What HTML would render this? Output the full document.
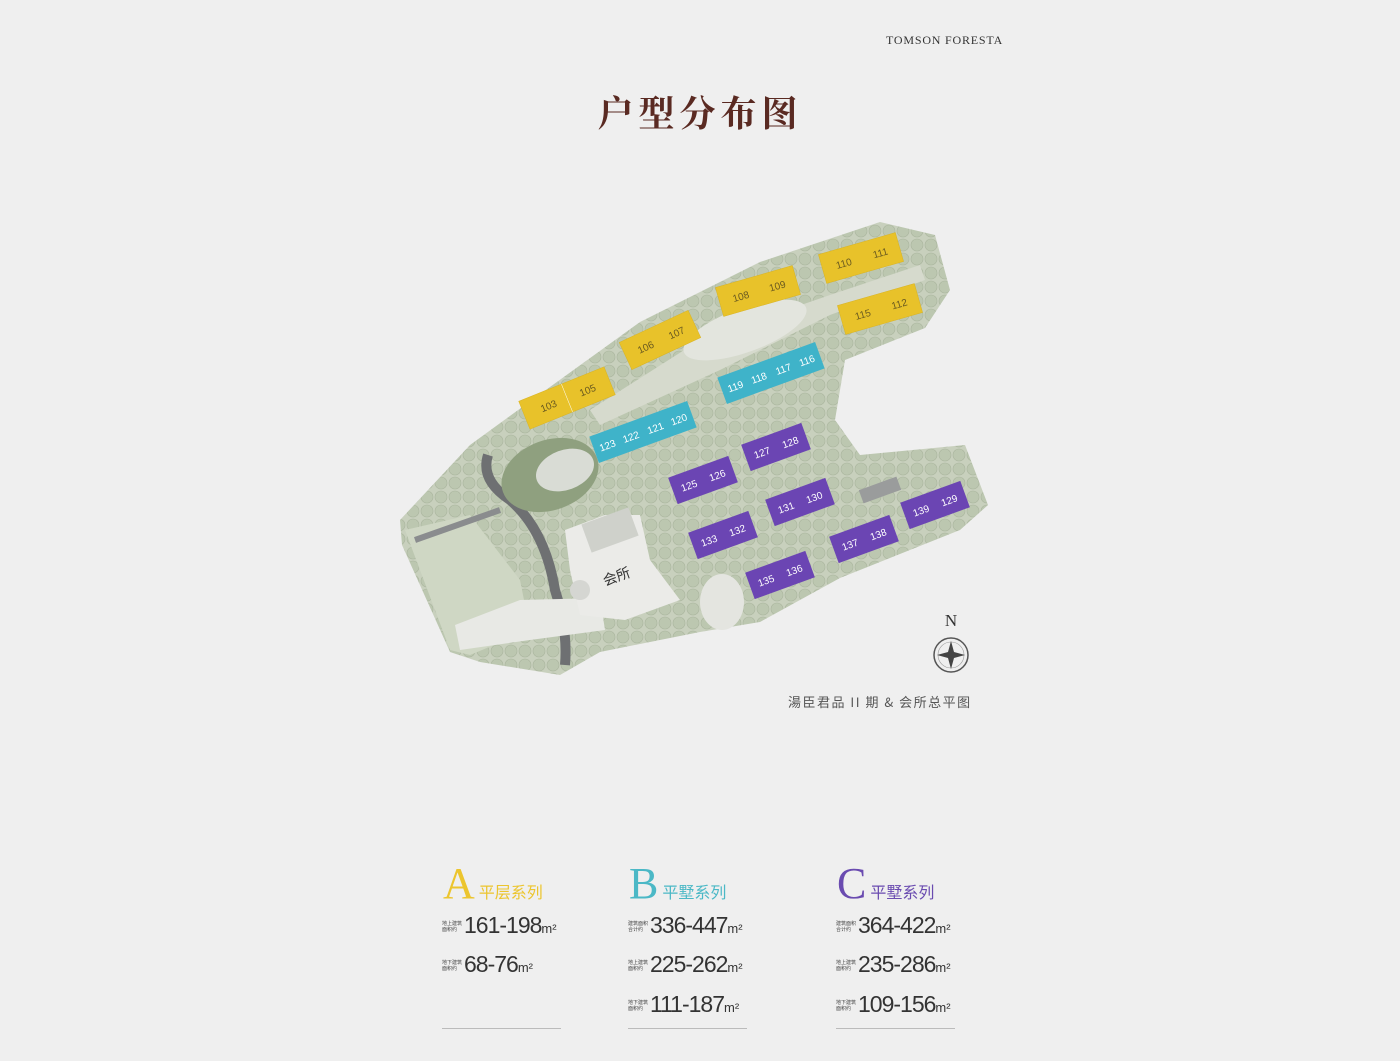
<!DOCTYPE html>
<html><head><meta charset="utf-8">
<style>
html,body{margin:0;padding:0;background:#efefef;}
body{width:1400px;height:1061px;position:relative;overflow:hidden;font-family:"Liberation Sans","Noto Sans CJK SC",sans-serif;}
.abs{position:absolute;}
.brand{left:886px;top:33px;font-family:"Liberation Serif",serif;font-size:12px;letter-spacing:0.8px;color:#333;}
.title{left:0;width:1400px;top:86px;text-align:center;font-family:"Noto Serif CJK SC",serif;font-size:36px;font-weight:bold;color:#5a2a22;letter-spacing:5px;}
.cap{left:788px;top:692px;font-size:13px;color:#555;letter-spacing:1.5px;font-family:"Noto Sans CJK SC",sans-serif;}
.big{font-family:"Liberation Serif",serif;font-size:44px;line-height:44px;}
.ser{font-size:16px;font-family:"Noto Sans CJK SC",sans-serif;margin-left:4px;}
.row{font-size:23px;color:#333;font-family:"Liberation Sans",sans-serif;letter-spacing:-1px;white-space:nowrap;}
.lab{display:inline-block;font-size:5px;line-height:6px;width:22px;color:#444;vertical-align:2px;letter-spacing:0;font-family:"Noto Sans CJK SC",sans-serif;}
.u{font-size:13px;letter-spacing:0;}
.line{height:1px;background:#bbb;width:119px;}
</style></head><body>
<div class="abs brand">TOMSON FORESTA</div>
<div class="abs title">户型分布图</div>

<svg class="abs" style="left:0;top:0" width="1400" height="1061">
<defs>
<pattern id="tr" width="14" height="14" patternUnits="userSpaceOnUse">
<rect width="14" height="14" fill="#c8d0bd"/>
<circle cx="7" cy="7" r="6" fill="#bcc7b0" stroke="#aab59e" stroke-width="0.6"/>
</pattern>
</defs>
<polygon points="400,520 470,445 525,405 640,322 760,262 880,222 935,235 950,290 925,328 845,360 835,420 860,455 965,445 988,505 960,530 840,578 760,622 700,632 600,652 560,675 480,662 450,652 402,545" fill="url(#tr)"/>
<polygon points="590,410 700,340 830,295 920,265 925,280 830,315 720,370 600,425" fill="#d6dacd"/>
<ellipse cx="745" cy="330" rx="65" ry="22" transform="rotate(-20 745 330)" fill="#e3e5de"/>
<polygon points="405,530 470,515 520,580 530,630 470,655 450,650" fill="#cfd7c4"/>
<path d="M488,455 Q480,480 510,500 Q545,530 555,590 Q568,630 565,665" stroke="#6e7072" stroke-width="10" fill="none"/>
<path d="M415,540 L500,510" stroke="#8a8c8e" stroke-width="6" fill="none"/>
<polygon points="455,625 520,600 600,598 605,630 530,640 460,650" fill="#e8e9e5"/>
<polygon points="565,530 605,515 640,515 650,560 665,580 680,600 625,620 580,615 570,570" fill="#ebebe8"/>
<rect x="585" y="515" width="50" height="30" fill="#cfd1cb" transform="rotate(-20 610 530)"/>
<circle cx="580" cy="590" r="10" fill="#d5d6d2"/>
<text x="603" y="582" font-family="Noto Sans CJK SC" font-size="14" fill="#333" transform="rotate(-20 615 578)">会所</text>
<ellipse cx="550" cy="475" rx="50" ry="35" transform="rotate(-20 550 475)" fill="#8fa07f"/>
<ellipse cx="565" cy="470" rx="30" ry="20" transform="rotate(-20 565 470)" fill="#d9dcd5"/>
<ellipse cx="722" cy="602" rx="22" ry="28" fill="#e4e5e0"/>
<rect x="860" y="483" width="40" height="14" fill="#9a9c9c" transform="rotate(-20 880 490)"/>

<g font-family="Liberation Sans" font-size="10" text-anchor="middle">
<g fill="#e8c22a" stroke="#d9b322" stroke-width="0.5">
<g transform="translate(567,398) rotate(-22)"><rect x="-46" y="-15" width="92" height="30"/><line x1="0" y1="-15" x2="0" y2="15" stroke="#fff" stroke-width=".5"/><text x="-20" y="4" fill="#6a5a20" stroke="none">103</text><text x="22" y="4" fill="#6a5a20" stroke="none">105</text></g>
<g transform="translate(660,340) rotate(-25)"><rect x="-38" y="-15" width="76" height="30"/><text x="-16" y="4" fill="#6a5a20" stroke="none">106</text><text x="18" y="4" fill="#6a5a20" stroke="none">107</text></g>
<g transform="translate(758,291) rotate(-16)"><rect x="-40" y="-15" width="80" height="30"/><text x="-18" y="4" fill="#6a5a20" stroke="none">108</text><text x="20" y="4" fill="#6a5a20" stroke="none">109</text></g>
<g transform="translate(861,258) rotate(-16)"><rect x="-40" y="-15" width="80" height="30"/><text x="-18" y="4" fill="#6a5a20" stroke="none">110</text><text x="20" y="4" fill="#6a5a20" stroke="none">111</text></g>
<g transform="translate(880,309) rotate(-16)"><rect x="-40" y="-15" width="80" height="30"/><text x="-18" y="4" fill="#6a5a20" stroke="none">115</text><text x="20" y="4" fill="#6a5a20" stroke="none">112</text></g>
</g>
<g fill="#3fb3c9">
<g transform="translate(643,432) rotate(-20)"><rect x="-52" y="-14" width="104" height="28"/><g fill="#fff"><text x="-38" y="4">123</text><text x="-13" y="4">122</text><text x="13" y="4">121</text><text x="38" y="4">120</text></g></g>
<g transform="translate(771,373) rotate(-20)"><rect x="-52" y="-14" width="104" height="28"/><g fill="#fff"><text x="-38" y="4">119</text><text x="-13" y="4">118</text><text x="13" y="4">117</text><text x="38" y="4">116</text></g></g>
</g>
<g fill="#6b45b3">
<g transform="translate(776,447) rotate(-20)"><rect x="-32" y="-14" width="64" height="28"/><g fill="#fff"><text x="-15" y="4">127</text><text x="15" y="4">128</text></g></g>
<g transform="translate(703,480) rotate(-20)"><rect x="-32" y="-14" width="64" height="28"/><g fill="#fff"><text x="-15" y="4">125</text><text x="15" y="4">126</text></g></g>
<g transform="translate(800,502) rotate(-20)"><rect x="-32" y="-14" width="64" height="28"/><g fill="#fff"><text x="-15" y="4">131</text><text x="15" y="4">130</text></g></g>
<g transform="translate(723,535) rotate(-20)"><rect x="-32" y="-14" width="64" height="28"/><g fill="#fff"><text x="-15" y="4">133</text><text x="15" y="4">132</text></g></g>
<g transform="translate(864,539) rotate(-20)"><rect x="-32" y="-14" width="64" height="28"/><g fill="#fff"><text x="-15" y="4">137</text><text x="15" y="4">138</text></g></g>
<g transform="translate(935,505) rotate(-20)"><rect x="-32" y="-14" width="64" height="28"/><g fill="#fff"><text x="-15" y="4">139</text><text x="15" y="4">129</text></g></g>
<g transform="translate(780,575) rotate(-20)"><rect x="-32" y="-14" width="64" height="28"/><g fill="#fff"><text x="-15" y="4">135</text><text x="15" y="4">136</text></g></g>
</g>
</g>
<text x="951" y="626" font-family="Liberation Serif" font-size="17" text-anchor="middle" fill="#333">N</text>
<circle cx="951" cy="655" r="17" fill="none" stroke="#555" stroke-width="1.5"/>
<circle cx="951" cy="655" r="13" fill="none" stroke="#999" stroke-width="0.6"/>
<polygon points="951,641 954,652 965,655 954,658 951,669 948,658 937,655 948,652" fill="#444"/>
</svg>

<div class="abs cap">湯臣君品 II 期 &amp; 会所总平图</div>

<div class="abs" style="left:443px;top:862px;"><span class="big" style="color:#ecc52e">A</span><span class="ser" style="color:#ecc52e">平层系列</span></div>
<div class="abs row" style="left:442px;top:912px;"><span class="lab">地上建筑<br>面积约</span>161-198<span class="u">m²</span></div>
<div class="abs row" style="left:442px;top:951px;"><span class="lab">地下建筑<br>面积约</span>68-76<span class="u">m²</span></div>
<div class="abs line" style="left:442px;top:1028px;"></div>
<div class="abs" style="left:629px;top:862px;"><span class="big" style="color:#4bb8c6">B</span><span class="ser" style="color:#4bb8c6">平墅系列</span></div>
<div class="abs row" style="left:628px;top:912px;"><span class="lab">建筑面积<br>合计约</span>336-447<span class="u">m²</span></div>
<div class="abs row" style="left:628px;top:951px;"><span class="lab">地上建筑<br>面积约</span>225-262<span class="u">m²</span></div>
<div class="abs row" style="left:628px;top:991px;"><span class="lab">地下建筑<br>面积约</span>111-187<span class="u">m²</span></div>
<div class="abs line" style="left:628px;top:1028px;"></div>
<div class="abs" style="left:837px;top:862px;"><span class="big" style="color:#6a4bb0">C</span><span class="ser" style="color:#6a4bb0">平墅系列</span></div>
<div class="abs row" style="left:836px;top:912px;"><span class="lab">建筑面积<br>合计约</span>364-422<span class="u">m²</span></div>
<div class="abs row" style="left:836px;top:951px;"><span class="lab">地上建筑<br>面积约</span>235-286<span class="u">m²</span></div>
<div class="abs row" style="left:836px;top:991px;"><span class="lab">地下建筑<br>面积约</span>109-156<span class="u">m²</span></div>
<div class="abs line" style="left:836px;top:1028px;"></div>
</body></html>
